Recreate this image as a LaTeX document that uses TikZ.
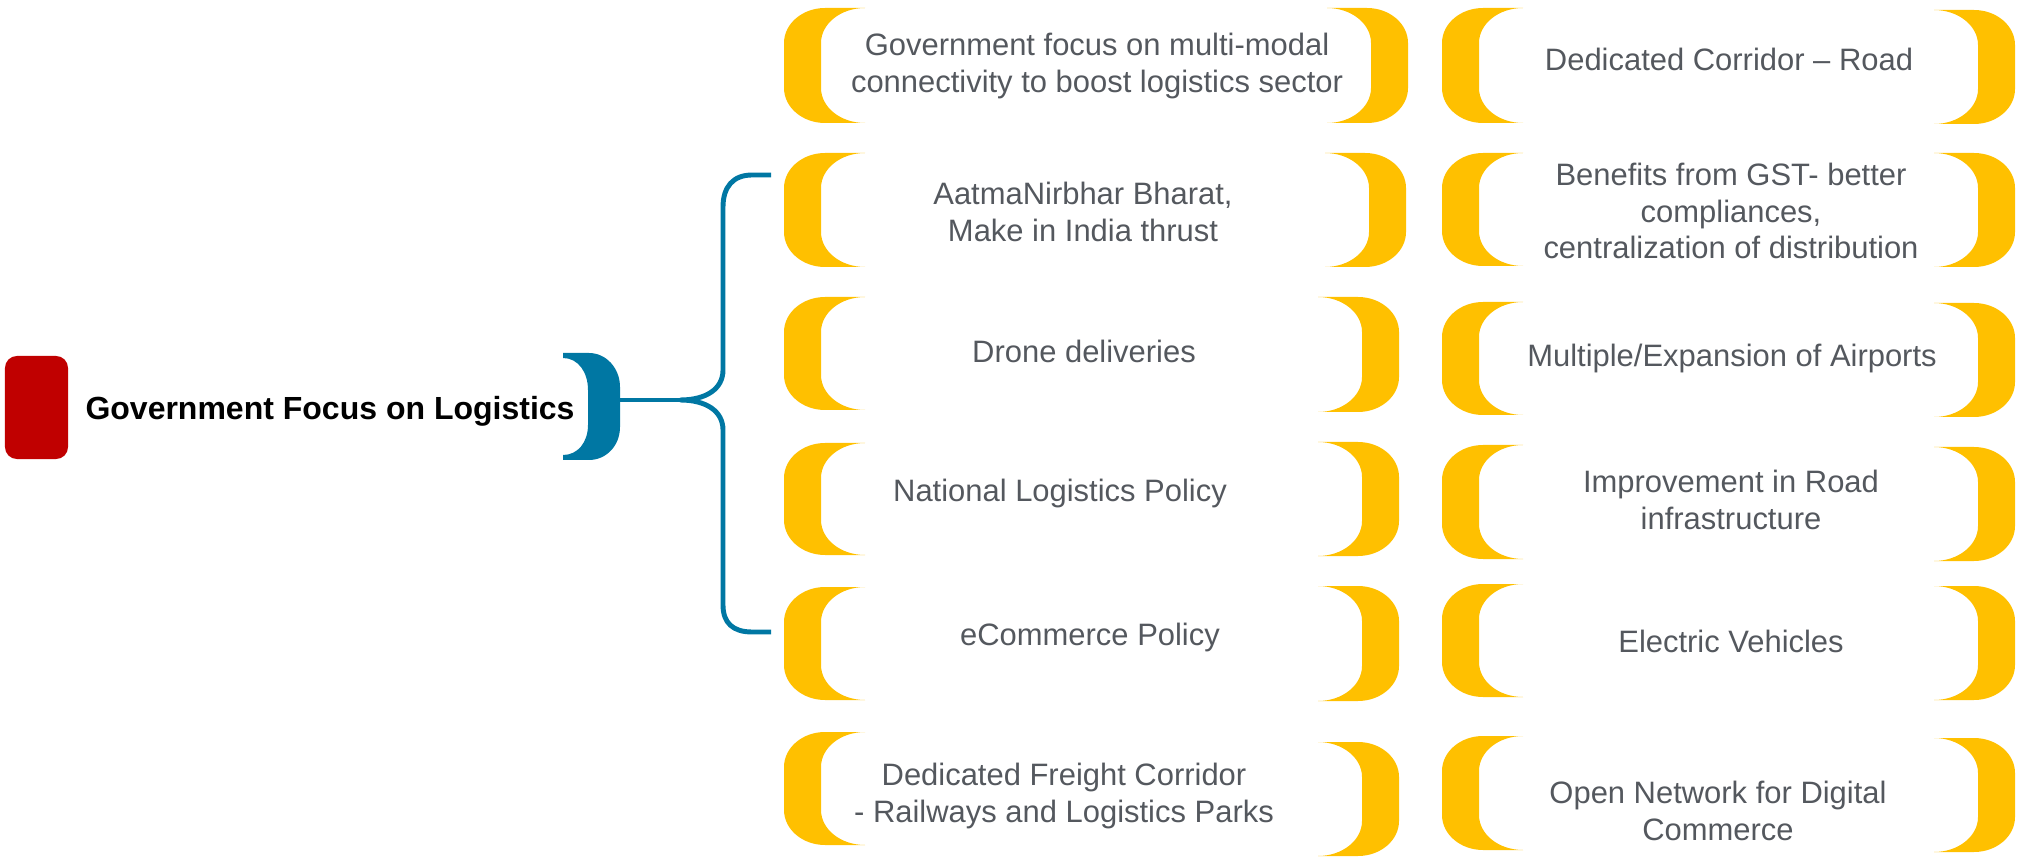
\documentclass[tikz,border=0pt]{standalone}
\usepackage{fontspec}
\setmainfont{Liberation Sans}
\definecolor{ylw}{HTML}{FFC000}
\definecolor{blu}{HTML}{0077A3}
\definecolor{redbox}{HTML}{C00000}
\definecolor{txtgray}{HTML}{54585E}
\begin{document}
\begin{tikzpicture}[x=0.01cm,y=-0.01cm,
    lbl/.style={font=\fontsize{8.8}{10.4}\selectfont,text=txtgray,align=center,inner sep=0pt},
    ttl/.style={font=\fontsize{9.1}{11}\selectfont\bfseries,text=black,inner sep=0pt},
    redmark/.style={fill=redbox,rounded corners=3.4pt,minimum width=0.63cm,minimum height=1.03cm,inner sep=0pt},
    brc/.style={draw=blu,line width=1.4pt}]
    \useasboundingbox (0,0) rectangle (2021,858);
    \foreach \x/\t/\b in {784/8/123,784/153/267,784/297/410,784/443/555,784/587/700,784/732/845,1442/8/123,1442/153/266,1442/302/415,1442/445/559,1442/584/697,1442/736/850}
        \fill[ylw] (\x+81,\t) -- (\x+41,\t) .. controls (\x+18.4,\t) and (\x,\t+15.7) .. (\x,\t+35) -- (\x,\b-35) .. controls (\x,\b-15.7) and (\x+18.4,\b) .. (\x+41,\b) -- (\x+81,\b) .. controls (\x+56.7,\b) and (\x+37,\b-15.7) .. (\x+37,\b-35) -- (\x+37,\t+35) .. controls (\x+37,\t+15.7) and (\x+56.7,\t) .. (\x+81,\t) -- cycle;
    \foreach \x/\t/\b in {1408/8/123,1406/153/267,1399/297/412,1399/442/556,1399/586/701,1399/742/856,2015/10/124,2015/153/267,2015/303/417,2015/447/561,2015/586/700,2015/738/852}
        \fill[ylw] (\x-81,\t) -- (\x-41,\t) .. controls (\x-18.4,\t) and (\x,\t+15.7) .. (\x,\t+35) -- (\x,\b-35) .. controls (\x,\b-15.7) and (\x-18.4,\b) .. (\x-41,\b) -- (\x-81,\b) .. controls (\x-56.7,\b) and (\x-37,\b-15.7) .. (\x-37,\b-35) -- (\x-37,\t+35) .. controls (\x-37,\t+15.7) and (\x-56.7,\t) .. (\x-81,\t) -- cycle;
    \node[redmark] (mk) at (36.5,407.5) {};
    \node[ttl] (title) at (330,411) {Government Focus on Logistics};
    \fill[blu] (563,353) -- (589,353) .. controls (606,353) and (620,368) .. (620,387) -- (620,427) .. controls (620,446) and (606,460) .. (589,460) -- (563,460) -- (563,455) .. controls (578,455) and (588,442) .. (588,425) -- (588,390) .. controls (588,372) and (578,358) .. (563,358) -- cycle;
    \coordinate (hub) at (620,400);
    \coordinate (cusp) at (680,400);
    \coordinate (up) at (771,175);
    \coordinate (dn) at (771,632);
    \draw[brc] (hub) -- (cusp);
    \draw[brc] (up) -- (752,175) .. controls (733,175) and (723,187) .. (723,207) -- (723,370) .. controls (723,389) and (706,400) .. (cusp) .. controls (706,400) and (723,411) .. (723,430) -- (723,605) .. controls (723,623) and (733,632) .. (752,632) -- (dn);
    \foreach \u/\v/\w/\n in {1097/66/{Government focus on multi-modal\\connectivity to boost logistics sector}/l1,
        1083/212/{AatmaNirbhar Bharat,\\Make in India thrust}/l2,
        1084/351/{Drone deliveries}/l3,
        1060/493/{National Logistics Policy}/l4,
        1090/637/{eCommerce Policy}/l5,
        1064/796/{Dedicated Freight Corridor\\- Railways and Logistics Parks}/l6,
        1729/59/{Dedicated Corridor – Road}/r1,
        1731/211/{Benefits from GST- better\\compliances,\\centralization of distribution}/r2,
        1732/358/{Multiple/Expansion of Airports}/r3,
        1731/500/{Improvement in Road\\infrastructure}/r4,
        1731/641/{Electric Vehicles}/r5,
        1718/811/{Open Network for Digital\\Commerce}/r6}
        \node[lbl] (\n) at (\u,\v) {\w};
\end{tikzpicture}
\end{document}
